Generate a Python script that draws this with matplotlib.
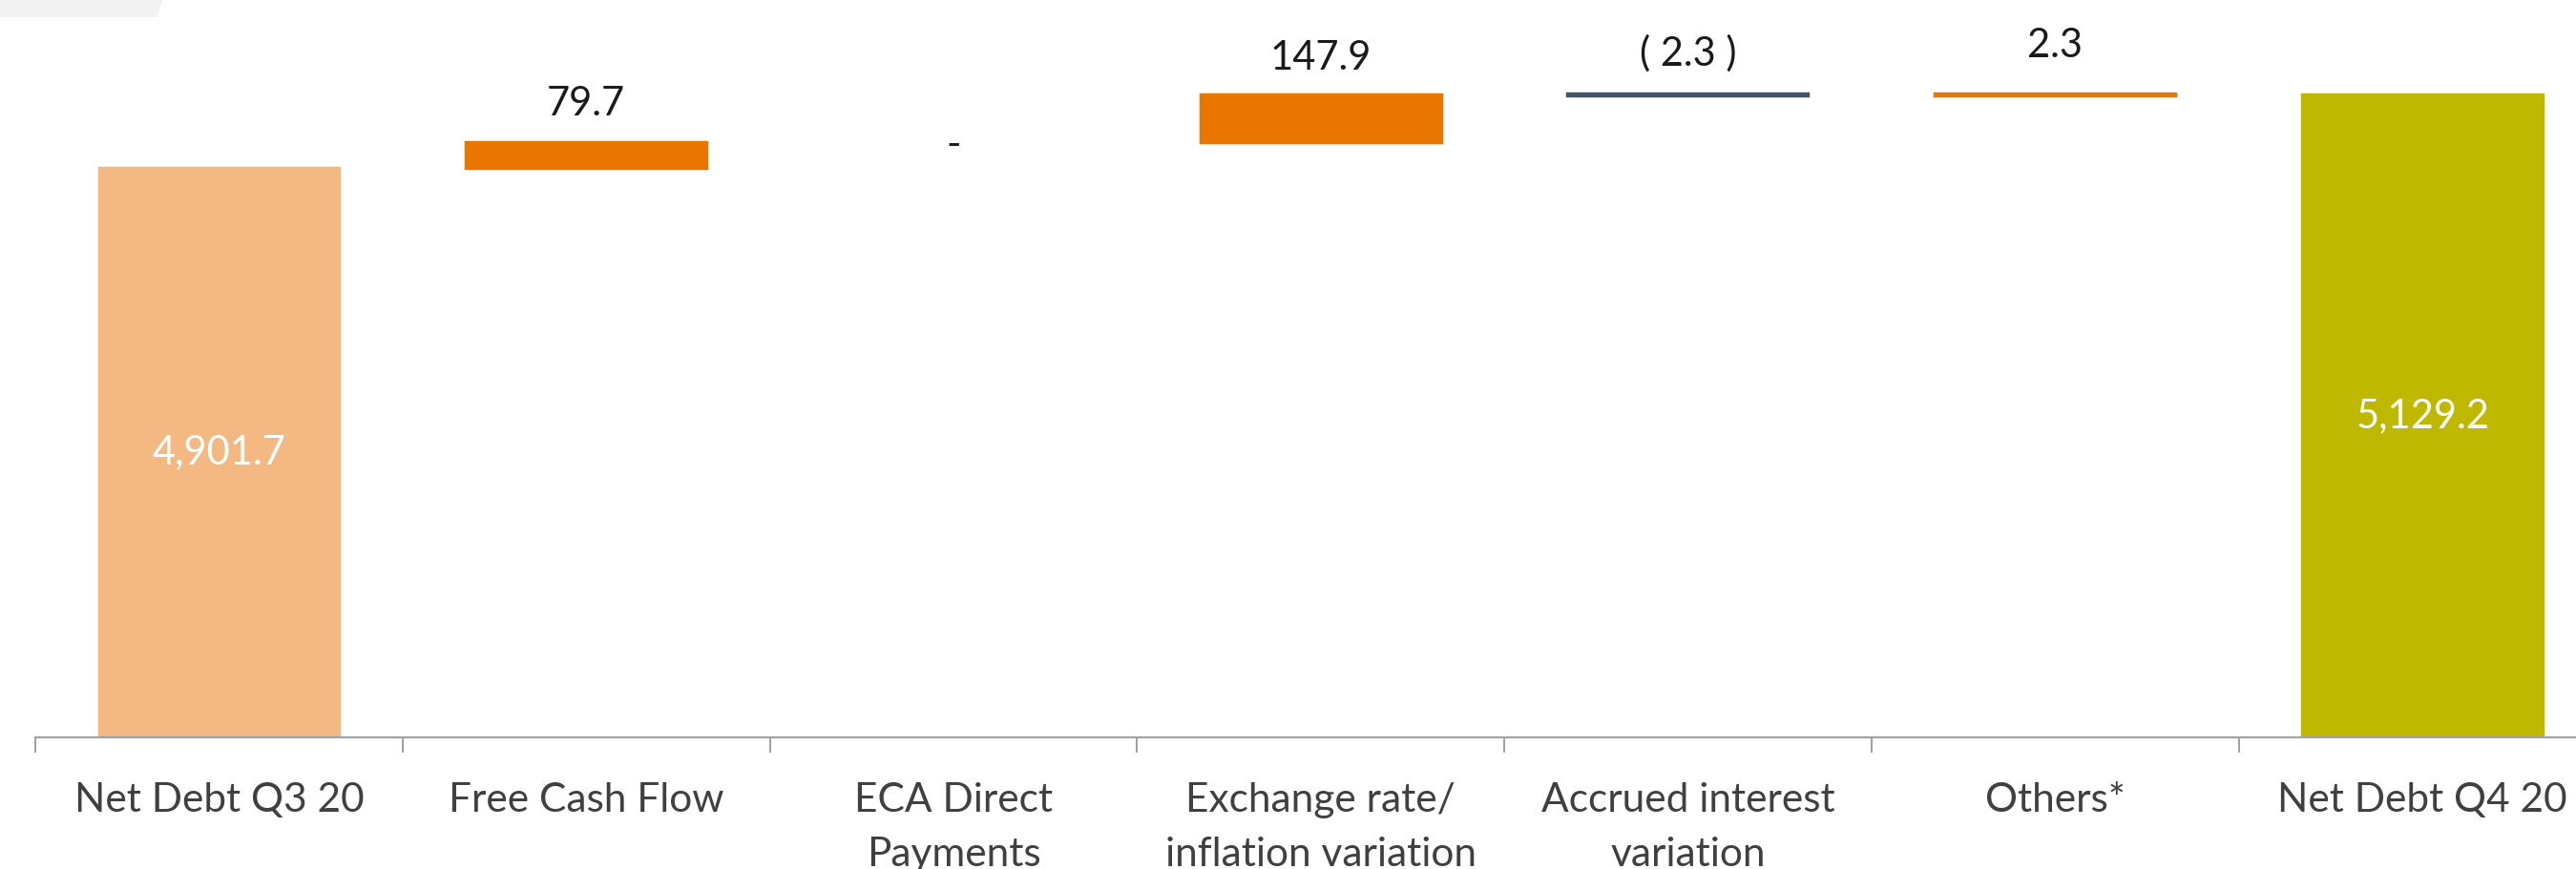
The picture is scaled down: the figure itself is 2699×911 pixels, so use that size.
import matplotlib.pyplot as plt
import numpy as np
from matplotlib.patches import Polygon

# waterfall: net debt Q3 20 -> Q4 20
categories = ['Net Debt Q3 20', 'Free Cash Flow', 'ECA Direct\nPayments',
              'Exchange rate/\ninflation variation', 'Accrued interest\nvariation',
              'Others*', 'Net Debt Q4 20']
values = [4901.7, 79.7, 0.0, 147.9, -2.3, 2.3, 5129.2]
value_labels = ['4,901.7', '79.7', '-', '147.9', '( 2.3 )', '2.3', '5,129.2']
is_total = [True, False, False, False, False, False, True]
colors = ['#F4B982', '#E97600', '#E97600', '#E97600', '#44546A', '#E97600', '#BFB800']
# label distance above each step bar (points)
label_offsets = [0, 28.5, 0, 27.5, 31, 37, 0]

y_min, y_max = 3130, 5423

plt.rcParams['font.family'] = ['Lato', 'DejaVu Sans']

fig = plt.figure(figsize=(26.99, 9.11), dpi=100)
ax = fig.add_axes([37 / 2699, (911 - 773) / 911, 1 - 37 / 2699, 773 / 911])

x = np.arange(len(categories))
bottoms = []
heights = []
running = 0.0
for v, tot in zip(values, is_total):
    if tot:
        bottoms.append(y_min)
        heights.append(v - y_min)
        running = v
    else:
        lo = min(running, running + v)
        bottoms.append(lo)
        heights.append(abs(v))
        running += v

# tiny steps drawn as thicker lines, zero step not drawn
edge_w = []
for v in values:
    if v == 0:
        edge_w.append(0)
    elif abs(v) < 10:
        edge_w.append(3.2)
    else:
        edge_w.append(2.5)
ax.bar(x, heights, bottom=bottoms, width=0.654, color=colors,
       edgecolor=colors, linewidth=edge_w, zorder=2)

for i in range(len(categories)):
    if is_total[i]:
        ax.text(x[i], (y_min + values[i]) / 2, value_labels[i], ha='center', va='center',
                color='white', fontsize=30)
    elif values[i] == 0:
        ax.annotate(value_labels[i], (x[i], bottoms[i]), xytext=(0, -2),
                    textcoords='offset points', ha='center', va='center',
                    color='#1a1a1a', fontsize=30)
    else:
        ax.annotate(value_labels[i], (x[i], bottoms[i] + heights[i]),
                    xytext=(0, label_offsets[i]), textcoords='offset points',
                    ha='center', va='center', color='#1a1a1a', fontsize=30)

for s in ['top', 'right', 'left']:
    ax.spines[s].set_visible(False)
ax.spines['bottom'].set_color('#A0A0A0')
ax.spines['bottom'].set_linewidth(1.5)
ax.set_yticks([])

ax.set_xticks(x)
ax.set_xticklabels(categories, fontsize=30.5, color='#404040', linespacing=1.6)
ax.tick_params(axis='x', which='major', length=0, pad=34)
ax.set_xticks(np.arange(-0.5, 6.0, 1.0), minor=True)
ax.tick_params(axis='x', which='minor', length=11.5, width=1.4, color='#A0A0A0')

# limits last, so the tick calls cannot widen them
ax.set_xlim(-0.5, -0.5 + (2699 - 37) / 384.8)
ax.set_ylim(y_min, y_max)

# faint grey smudge in the top-left corner of the slide
fig.patches.append(Polygon([[0, 1], [170 / 2699, 1], [165 / 2699, 1 - 18 / 911],
                            [0, 1 - 18 / 911]], closed=True, transform=fig.transFigure,
                           facecolor='#F2F2F2', edgecolor='none'))

fig.savefig('out.png', dpi=100)
